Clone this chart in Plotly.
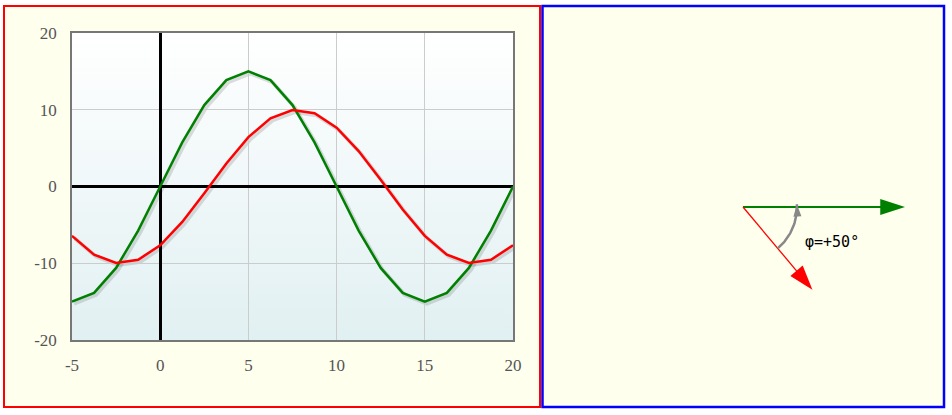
import base64
import numpy as np
import plotly.graph_objects as go

# ---------------- data ----------------
x_vals = [-5, -3.75, -2.5, -1.25, 0, 1.25, 2.5, 3.75, 5, 6.25, 7.5, 8.75,
          10, 11.25, 12.5, 13.75, 15, 16.25, 17.5, 18.75, 20]
green_vals = [-15.0, -13.86, -10.61, -5.74, 0.0, 5.74, 10.61, 13.86, 15.0, 13.86, 10.61, 5.74,
              0.0, -5.74, -10.61, -13.86, -15.0, -13.86, -10.61, -5.74, 0.0]
red_vals = [-6.43, -8.87, -9.96, -9.54, -7.66, -4.62, -0.87, 3.01, 6.43, 8.87, 9.96, 9.54,
            7.66, 4.62, 0.87, -3.01, -6.43, -8.87, -9.96, -9.54, -7.66]

x_tick_vals = [-5, 0, 5, 10, 15, 20]
x_tick_text = ["-5", "0", "5", "10", "15", "20"]
y_tick_vals = [-20, -10, 0, 10, 20]
y_tick_text = ["-20", "-10", "0", "10", "20"]

phasor_colors = ["#008000", "#ff0000"]
phasor_amp = [15, 10]
phasor_phase_deg = [0, -50]
phase_label = "φ=+50°"

# ---------------- layout helpers ----------------
W, H = 952, 415


def px(p):
    return p / W


def py(p):
    return 1 - p / H


X_RANGE = [-5, 20]
Y_RANGE = [-20, 20]
PLOT_L, PLOT_R, PLOT_T, PLOT_B = 72, 513, 33, 340
SH = 2  # shadow offset in px

# phasor panel geometry
PH_L, PH_R, PH_T, PH_B = 544, 940, 8, 405
ORX, ORY = 743, 207
SCALE = 10.8  # px per unit

fig = go.Figure()

# shadows (subplot xy, shifted)
for vals in (green_vals, red_vals):
    fig.add_trace(go.Scatter(x=x_vals, y=vals, mode="lines", xaxis="x", yaxis="y",
                             line=dict(color="rgba(0,0,0,0.13)", width=4),
                             hoverinfo="skip"))

# main curves
fig.add_trace(go.Scatter(x=x_vals, y=green_vals, mode="lines", xaxis="x2", yaxis="y2",
                         line=dict(color="#008000", width=2.5)))
fig.add_trace(go.Scatter(x=x_vals, y=red_vals, mode="lines", xaxis="x2", yaxis="y2",
                         line=dict(color="#ff0000", width=2.5)))

# phasors
widths = [2, 1.3]
for amp, ph, col, w in zip(phasor_amp, phasor_phase_deg, phasor_colors, widths):
    ex = amp * np.cos(np.radians(ph))
    ey = amp * np.sin(np.radians(ph))
    fig.add_trace(go.Scatter(x=[0, ex], y=[0, ey], mode="lines+markers", xaxis="x3", yaxis="y3",
                             line=dict(color=col, width=w),
                             marker=dict(symbol="arrow", size=[0, 26], angleref="previous",
                                         color=col, opacity=1, line=dict(width=0)),
                             hoverinfo="skip"))

# angle arc
R_ARC = 5
theta = np.radians(np.linspace(phasor_phase_deg[1], 3, 40))
sizes = [0] * (len(theta) - 1) + [13]
fig.add_trace(go.Scatter(x=R_ARC * np.cos(theta), y=R_ARC * np.sin(theta), mode="lines+markers",
                         xaxis="x3", yaxis="y3",
                         line=dict(color="#888888", width=2.5),
                         marker=dict(symbol="arrow", size=sizes, angleref="previous",
                                     color="#888888", opacity=1, line=dict(width=0)),
                         hoverinfo="skip"))

# gradient background image
svg = ('<svg xmlns="http://www.w3.org/2000/svg" width="10" height="10" viewBox="0 0 10 10" '
       'preserveAspectRatio="none"><defs><linearGradient id="g" x1="0" y1="0" x2="0" y2="1">'
       '<stop offset="0" stop-color="#ffffff"/><stop offset="1" stop-color="#e1f0f2"/>'
       '</linearGradient></defs><rect width="10" height="10" fill="url(#g)"/></svg>')
svg_uri = "data:image/svg+xml;base64," + base64.b64encode(svg.encode()).decode()

tick_font = dict(family="Liberation Serif", size=17, color="#555555")

shapes = [
    # white outer margin strips
    dict(type="rect", xref="paper", yref="paper", x0=0, x1=1, y0=py(5), y1=1,
         fillcolor="white", line=dict(width=0), layer="below"),
    dict(type="rect", xref="paper", yref="paper", x0=0, x1=1, y0=0, y1=py(408),
         fillcolor="white", line=dict(width=0), layer="below"),
    dict(type="rect", xref="paper", yref="paper", x0=0, x1=px(3), y0=0, y1=1,
         fillcolor="white", line=dict(width=0), layer="below"),
    dict(type="rect", xref="paper", yref="paper", x0=px(945), x1=1, y0=0, y1=1,
         fillcolor="white", line=dict(width=0), layer="below"),
    # panel borders
    dict(type="rect", xref="paper", yref="paper", x0=px(4), x1=px(540), y0=py(407), y1=py(6),
         line=dict(color="#ff0000", width=2), layer="above"),
    dict(type="rect", xref="paper", yref="paper", x0=px(542.5), x1=px(944), y0=py(407), y1=py(6),
         line=dict(color="#0000ff", width=2.5), layer="above"),
]

fig.update_layout(
    width=W, height=H,
    margin=dict(l=0, r=0, t=0, b=0, pad=0, autoexpand=False),
    paper_bgcolor="#ffffee",
    plot_bgcolor="rgba(0,0,0,0)",
    showlegend=False,
    shapes=shapes,
    images=[dict(source=svg_uri, xref="paper", yref="paper",
                 x=px(PLOT_L), y=py(PLOT_T), sizex=px(PLOT_R) - px(PLOT_L),
                 sizey=(PLOT_B - PLOT_T) / H, xanchor="left", yanchor="top",
                 sizing="stretch", layer="below")],
    xaxis=dict(domain=[px(PLOT_L + SH), px(PLOT_R + SH)], range=X_RANGE, visible=False,
               anchor="y", fixedrange=True),
    yaxis=dict(domain=[py(PLOT_B + SH), py(PLOT_T + SH)], range=Y_RANGE, visible=False,
               anchor="x", fixedrange=True),
    xaxis2=dict(domain=[px(PLOT_L), px(PLOT_R)], range=X_RANGE, anchor="y2",
                tickmode="array", tickvals=x_tick_vals, ticktext=x_tick_text,
                tickfont=tick_font, ticks="", ticklabelstandoff=9, automargin=False,
                showgrid=True, gridcolor="#cccccc", gridwidth=1,
                zeroline=True, zerolinecolor="#000000", zerolinewidth=3,
                showline=True, mirror=True, linecolor="#777777", linewidth=1.5,
                fixedrange=True),
    yaxis2=dict(domain=[py(PLOT_B), py(PLOT_T)], range=Y_RANGE, anchor="x2",
                tickmode="array", tickvals=y_tick_vals, ticktext=y_tick_text,
                tickfont=tick_font, ticks="", ticklabelstandoff=10, automargin=False,
                showgrid=True, gridcolor="#cccccc", gridwidth=1,
                zeroline=True, zerolinecolor="#000000", zerolinewidth=2.5,
                showline=True, mirror=True, linecolor="#777777", linewidth=1.5,
                fixedrange=True),
    xaxis3=dict(domain=[px(PH_L), px(PH_R)],
                range=[(PH_L - ORX) / SCALE, (PH_R - ORX) / SCALE],
                visible=False, anchor="y3", fixedrange=True),
    yaxis3=dict(domain=[py(PH_B), py(PH_T)],
                range=[-(PH_B - ORY) / SCALE, (ORY - PH_T) / SCALE],
                visible=False, anchor="x3", fixedrange=True),
    annotations=[dict(text=phase_label, xref="x3", yref="y3",
                      x=(803 - ORX) / SCALE, y=-(242 - ORY) / SCALE,
                      xanchor="left", yanchor="middle", showarrow=False,
                      font=dict(family="DejaVu Sans Mono", size=15, color="#000000"))],
)

fig.write_html("out.html", config={"displayModeBar": False},
               post_script="document.body.style.margin='0';document.body.style.overflow='hidden';")
